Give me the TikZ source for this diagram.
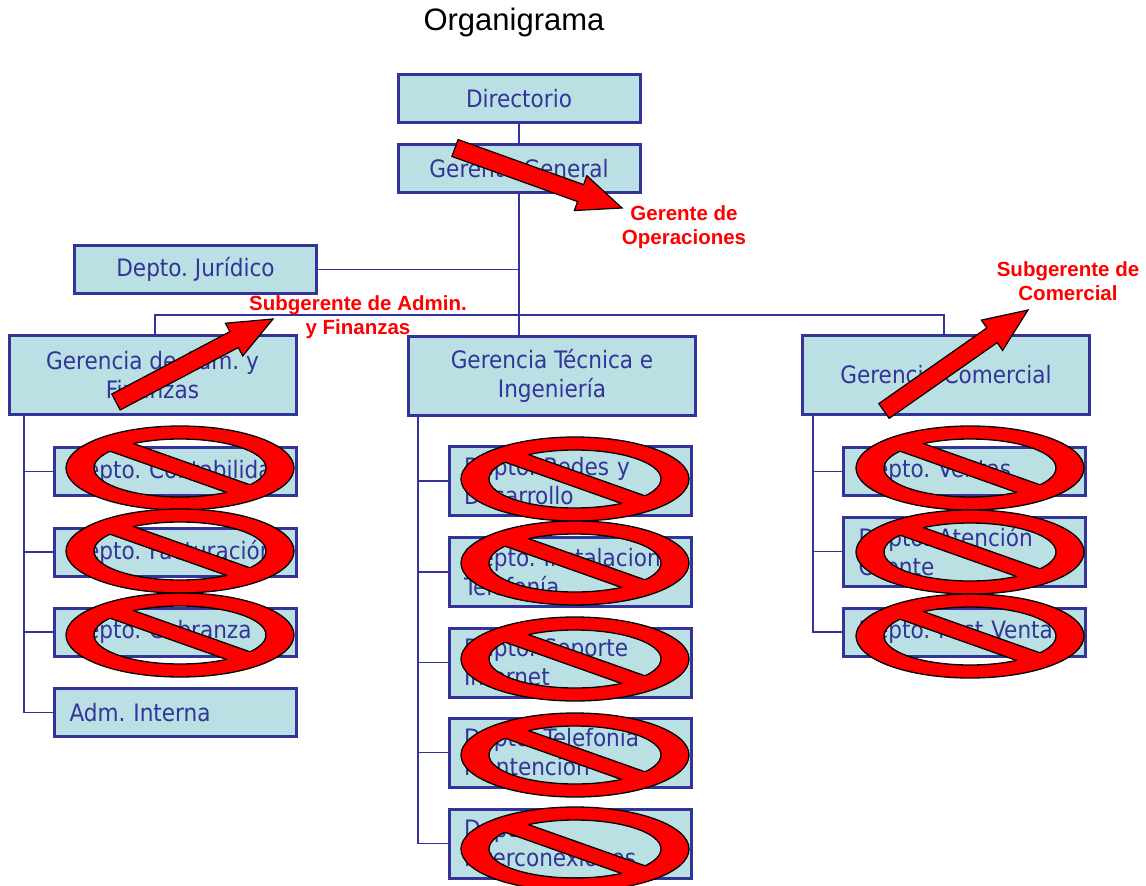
\documentclass[tikz,border=0pt]{standalone}
\usepackage{fontspec}
\setmainfont{Liberation Sans}
\newfontfamily\boxfont{DejaVu Sans Condensed}
\usetikzlibrary{calc}
\usetikzlibrary{positioning}
\definecolor{boxblue}{HTML}{333399}
\definecolor{boxfill}{HTML}{BBE0E3}
\frenchspacing
\tikzset{
	box/.style={
		draw=boxblue,
		fill=boxfill,
		line width=3pt,
		text=boxblue,
		font=\boxfont\fontsize{24}{29}\selectfont,
		inner sep=0pt,
		align=center,
	},
	mainbox/.style={
		box,
		minimum width=242pt,
		minimum height=48pt,
	},
	gerbox/.style={
		box,
		minimum width=287pt,
		minimum height=79pt,
	},
	subbox/.style={
		box,
		minimum width=242pt,
		minimum height=48pt,
		text width=212pt,
		inner xsep=15pt,
		align=left,
	},
	tallsub/.style={
		subbox,
		minimum height=69pt,
	},
	conn/.style={
		draw=boxblue,
		line width=1.8pt,
	},
	redlabel/.style={
		text=red,
		font=\bfseries\fontsize{20.5}{24}\selectfont,
		align=center,
		inner sep=0pt,
	},
	nored/.style={
		fill=red,
	},
	noline/.style={
		draw=black,
		line width=1.3pt,
	},
	redarrow/.style={
		draw=black,
		fill=red,
		line width=1.2pt,
		line join=miter,
	},
}

\begin{document}
\begin{tikzpicture}[x=1pt,y=-1pt]
	\useasboundingbox (0,0) rectangle (1146,886);

	\node[font=\fontsize{31}{36}\selectfont, inner sep=0pt] (title) at (514,22) {Organigrama};

	\node[mainbox] (dir) at (519,98.5) {Directorio};
	\node[mainbox] (gg) at (519,168.5) {Gerente General};
	\node[mainbox] (jur) at (195.5,269.5) {Depto. Jurídico};

	\node[gerbox] (gadm) at (152.5,375) {Gerencia de Adm. y\\Finanzas};
	\node[gerbox] (gtec) at (552,375.5) {Gerencia Técnica e\\Ingeniería};
	\node[gerbox] (gcom) at (946,375) {Gerencia Comercial};

	\node[subbox] (cont) at (175.5,471.5) {\mbox{Depto. Contabilidad}};
	\node[subbox] (fact) at (175.5,552) {\mbox{Depto. Facturación}};
	\node[subbox] (cobr) at (175.5,632) {Depto. Cobranza};
	\node[subbox] (adm) at (175.5,712.5) {Adm. Interna};

	\node[tallsub] (redes) at (570,481) {Depto. Redes y\\Desarrollo};
	\node[tallsub] (inst) at (570,572) {\mbox{Depto. Instalaciones}\\Telefonía};
	\node[tallsub] (sop) at (570,662.5) {Depto. Soporte\\Internet};
	\node[tallsub] (tel) at (570,752.5) {Depto. Telefonia\\Mantención};
	\node[tallsub] (inter) at (570,843.5) {Depto.\\Interconexiones};

	\node[subbox] (ventas) at (964.5,471.5) {Depto. Ventas};
	\node[tallsub] (aten) at (964.5,551.5) {Depto. Atención\\Cliente};
	\node[subbox] (post) at (964.5,632) {\mbox{Depto. Post Venta}};

	\coordinate (busL) at (155,315);
	\coordinate (busR) at (944,315);
	\coordinate (spA) at (24,0);
	\coordinate (spB) at (418,0);
	\coordinate (spC) at (813,0);

	\draw[conn] (dir) -- (gg);
	\draw[conn] (gg.south) -- (gtec.north -| gg.south);
	\draw[conn] (jur.east) -- (jur.east -| gg.south);
	\draw[conn] (busL |- gadm.north) -- (busL) -- (busR) -- (busR |- gcom.north);
	\foreach \n in {cont,fact,cobr,adm}
		\draw[conn] (spA |- gadm.south) |- (\n.west);
	\foreach \n in {redes,inst,sop,tel,inter}
		\draw[conn] (spB |- gtec.south) |- (\n.west);
	\foreach \n in {ventas,aten,post}
		\draw[conn] (spC |- gcom.south) |- (\n.west);

	% prohibido
	\foreach \sx/\sy in {180/468,180/551,180/635,575/479,575/563,575/659,575/755,575/849,970/468,970/552,970/636}{
		\fill[nored, even odd rule] (\sx,\sy) ellipse [x radius=114, y radius=42] (\sx,\sy) ellipse [x radius=86, y radius=29];
		\draw[noline] (\sx,\sy) ellipse [x radius=114, y radius=42] (\sx,\sy) ellipse [x radius=86, y radius=29];
		\begin{scope}
			\clip (\sx,\sy) ellipse [x radius=87.5, y radius=30.5];
			\fill[nored, shift={(\sx,\sy)}, rotate=-19.5] (-130,-7.5) rectangle (130,7.5);
		\end{scope}
		\begin{scope}
			\clip (\sx,\sy) ellipse [x radius=86, y radius=29];
			\draw[noline, shift={(\sx,\sy)}, rotate=-19.5] (-130,-7.5) -- (130,-7.5) (-130,7.5) -- (130,7.5);
		\end{scope}
	}

	\coordinate (tailop) at (455,148);
	\coordinate (tipop) at (622,208);
	\coordinate (tailadm) at (116,402);
	\coordinate (tipadm) at (273,319);
	\coordinate (tailcom) at (884,411);
	\coordinate (tipcom) at (1028,310);

	\foreach \k in {op,adm,com}
		\draw[redarrow] let \p1=($(tip\k)-(tail\k)$), \n1={atan2(\y1,\x1)}, \n2={veclen(\x1,\y1)} in
			[shift={(tail\k)}, rotate=\n1] (0,-9) -- (\n2-44,-9) -- (\n2-44,-18.5) -- (\n2,0)
			-- (\n2-44,18.5) -- (\n2-44,9) -- (0,9) -- cycle;

	\node[redlabel] (opl) at (684,227.5) {Gerente de\\Operaciones};
	\node[redlabel] (adml) at (358,317.5) {Subgerente de Admin.\\y Finanzas};
	\node[redlabel] (coml) at (1068,281.5) {Subgerente de\\Comercial};

\end{tikzpicture}
\end{document}
